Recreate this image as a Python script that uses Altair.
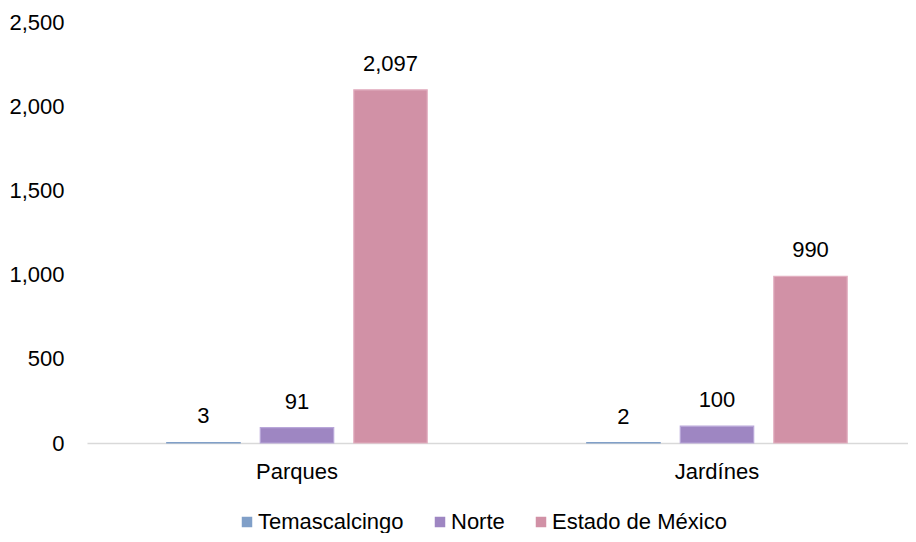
import altair as alt
import pandas as pd

categories = ["Parques", "Jardínes"]
series = ["Temascalcingo", "Norte", "Estado de México"]
temascalcingo = [3, 2]
norte = [91, 100]
estado = [2097, 990]
labels = {"Temascalcingo": ["3", "2"], "Norte": ["91", "100"], "Estado de México": ["2,097", "990"]}

rows = []
for s, vals in zip(series, [temascalcingo, norte, estado]):
    for c, v, lab in zip(categories, vals, labels[s]):
        rows.append({"cat": c, "serie": s, "valor": v, "lab": lab})
df = pd.DataFrame(rows)

colors = ["#809fc8", "#9e86c2", "#d191a6"]
strokes = ["#809fc8", "#b9a7d9", "#e2afc0"]
FONT = "Liberation Sans"
FS = 22

x = alt.X("cat:N", sort=categories, title=None,
          scale=alt.Scale(paddingInner=0.0904, paddingOuter=0.0226, align=1),
          axis=alt.Axis(labelAngle=0, labelFontSize=FS, labelFont=FONT, labelColor="#000",
                        ticks=False, domainColor="#d9d9d9", domainWidth=1.5, labelPadding=18))
xo = alt.XOffset("serie:N", sort=series, scale=alt.Scale(paddingInner=0.215, paddingOuter=0.65))
y = alt.Y("valor:Q", title=None,
          scale=alt.Scale(domain=[0, 2500], nice=False),
          axis=alt.Axis(values=[0, 500, 1000, 1500, 2000, 2500], format=",d", grid=False,
                        domain=False, ticks=False, labelFontSize=FS, labelFont=FONT,
                        labelColor="#000", labelPadding=23))

base = alt.Chart(df).encode(x=x, xOffset=xo, y=y)

bars = base.mark_bar(strokeWidth=1.2).encode(
    color=alt.Color("serie:N", sort=series, title=None,
                    scale=alt.Scale(domain=series, range=colors),
                    legend=alt.Legend(orient="none", direction="horizontal", legendX=149, legendY=489,
                                      symbolType="square", symbolSize=110, symbolStrokeWidth=0,
                                      labelFontSize=FS, labelFont=FONT, labelColor="#000",
                                      labelLimit=0, labelOffset=0, columnPadding=25, padding=0)),
    stroke=alt.Stroke("serie:N", sort=series, scale=alt.Scale(domain=series, range=strokes), legend=None),
)

text = base.mark_text(baseline="alphabetic", dy=-19, fontSize=FS, font=FONT, color="#000").encode(
    text="lab:N")

chart = (bars + text).properties(
    width=821, height=421,
    autosize=alt.AutoSizeParams(type="none"),
    padding={"left": 79, "top": 14, "right": 0, "bottom": 90},
).configure_view(stroke=None)

chart.save("out.html", embed_options={"renderer": "svg", "actions": False})
